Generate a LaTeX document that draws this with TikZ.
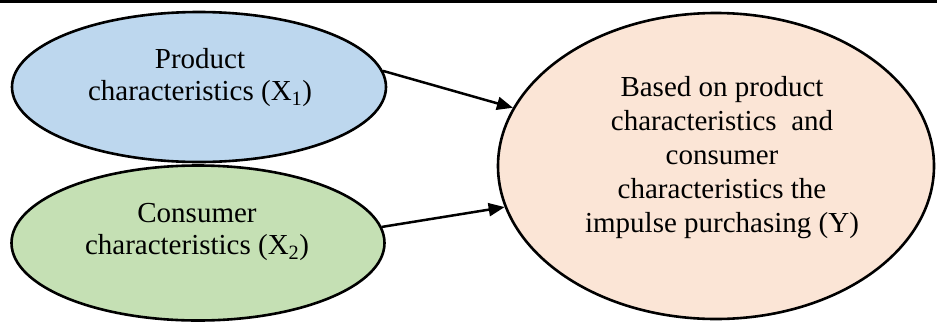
\documentclass[tikz,border=0pt]{standalone}
\usepackage{fontspec}
\setmainfont{Liberation Serif}
\usetikzlibrary{shapes.geometric,arrows.meta}
\definecolor{cblue}{HTML}{BDD7EE}
\definecolor{cgreen}{HTML}{C5E0B4}
\definecolor{cpeach}{HTML}{FBE5D6}
\tikzset{
  oval/.style={ellipse, draw=black, line width=2.6pt, inner sep=0pt},
  txt/.style={align=center, inner sep=0pt, font=\fontsize{29}{32}\selectfont},
  conn/.style={line width=2.5pt, -{Triangle[length=16pt,width=13pt]}},
  rule/.style={line width=3pt}
}
\begin{document}
\begin{tikzpicture}[x=1pt,y=-1pt]
\useasboundingbox (0,0) rectangle (937,327);
\coordinate (tl) at (0,1.5);
\coordinate (tr) at (937,1.5);
\draw[rule] (tl) -- (tr);
\node[oval, fill=cblue, minimum width=374pt, minimum height=150pt] (b) at (199,87) {};
\node[oval, fill=cgreen, minimum width=373pt, minimum height=155pt] (g) at (198,243) {};
\node[oval, fill=cpeach, minimum width=436pt, minimum height=306pt] (y) at (716,166) {};
\node[txt] (bt) at (200,78) {Product\\characteristics (X\textsubscript{1})};
\node[txt] (gt) at (197,232) {Consumer\\characteristics (X\textsubscript{2})};
\node[txt, font=\fontsize{29}{34}\selectfont] (yt) at (722,158) {Based on product\\characteristics\ \ and\\consumer\\characteristics the\\impulse purchasing (Y)};
\draw[conn] (b.5) -- (y.164);
\draw[conn] (g.5) -- (y.191);
\end{tikzpicture}
\end{document}
